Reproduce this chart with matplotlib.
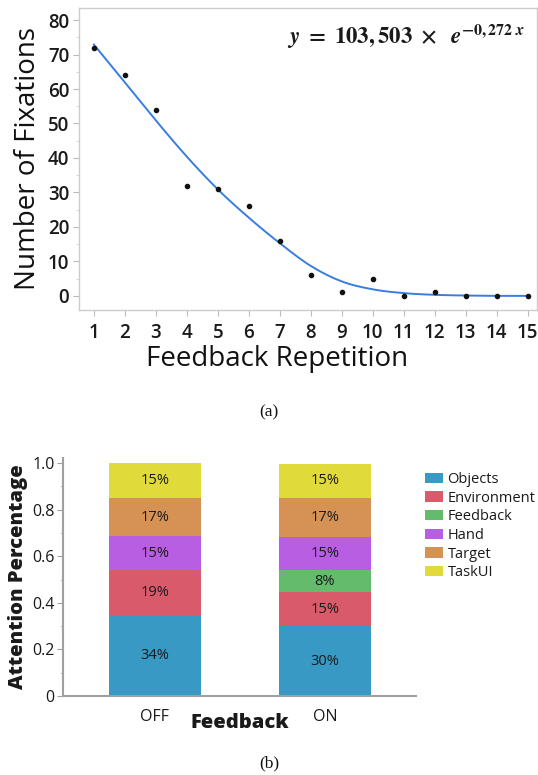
import numpy as np
import matplotlib
matplotlib.use("Agg")
import matplotlib.pyplot as plt
from matplotlib.patches import Patch

# ---------------- data ----------------
repetition = list(range(1, 16))
fixations = [72, 64, 54, 32, 31, 26, 16, 6, 1, 5, 0, 1, 0, 0, 0]
fit_curve = [72.9, 61.9, 50.9, 40.4, 30.9, 22.7, 15.3, 8.7, 4.2, 1.9, 0.8, 0.3, 0.1, 0.0, 0.0]

conditions = ["OFF", "ON"]
categories = ["Objects", "Environment", "Feedback", "Hand", "Target", "TaskUI"]
shares_off = [0.345, 0.195, 0.0, 0.145, 0.163, 0.152]
shares_on = [0.300, 0.145, 0.096, 0.141, 0.168, 0.147]
labels_off = ["34%", "19%", "", "15%", "17%", "15%"]
labels_on = ["30%", "15%", "8%", "15%", "17%", "15%"]
colors = ["#3799c4", "#d95b6b", "#63bb6b", "#b75ee3", "#d69154", "#e1da3b"]

SANS = ["Open Sans", "DejaVu Sans"]
SERIF = ["Liberation Serif", "DejaVu Serif"]
TXT = "#1a1a1a"

plt.rcParams["font.family"] = SANS
plt.rcParams["mathtext.fontset"] = "stix"

fig = plt.figure(figsize=(5.38, 7.75), dpi=100)

# ---------------- top panel ----------------
ax1 = fig.add_axes([0.1468, 0.600, 0.851, 0.3897])
ax1.scatter(repetition, fixations, s=9, color="#111111", zorder=3)


def catmull_rom(xs, ys, n=20):
    xs = np.asarray(xs, float)
    ys = np.asarray(ys, float)
    px = np.concatenate([[2 * xs[0] - xs[1]], xs, [2 * xs[-1] - xs[-2]]])
    py = np.concatenate([[2 * ys[0] - ys[1]], ys, [2 * ys[-1] - ys[-2]]])
    ox, oy = [], []
    for i in range(1, len(px) - 2):
        t = np.linspace(0, 1, n, endpoint=False)
        for arr, out in ((px, ox), (py, oy)):
            p0, p1, p2, p3 = arr[i - 1], arr[i], arr[i + 1], arr[i + 2]
            out.extend(0.5 * ((2 * p1) + (-p0 + p2) * t +
                              (2 * p0 - 5 * p1 + 4 * p2 - p3) * t ** 2 +
                              (-p0 + 3 * p1 - 3 * p2 + p3) * t ** 3))
    ox.append(xs[-1])
    oy.append(ys[-1])
    return np.array(ox), np.array(oy)


cx, cy = catmull_rom(repetition, fit_curve)
ax1.plot(cx, cy, color="#3a7de0", lw=1.4, zorder=2)

ax1.set_xlim(0.52, 15.3)
ax1.set_ylim(-4.1, 83.5)
ax1.set_xticks(repetition)
ax1.set_yticks(range(0, 81, 10))
ax1.set_yticks(range(5, 81, 10), minor=True)
for sp in ax1.spines.values():
    sp.set_color("#cccccc")
    sp.set_linewidth(1.0)
ax1.tick_params(axis="both", which="major", colors="#bbbbbb", length=4,
                width=0.8, labelcolor=TXT, labelsize=13.5)
ax1.tick_params(axis="y", which="minor", colors="#cccccc", length=2.5, width=0.6)
ax1.tick_params(axis="x", pad=5)
ax1.tick_params(axis="y", pad=3)
for lab in ax1.get_xticklabels() + ax1.get_yticklabels():
    lab.set_fontweight("semibold")
ax1.set_xlabel("Feedback Repetition", fontsize=20, fontweight="medium", color="#111111",
               labelpad=2)
ax1.xaxis.set_label_coords((277 - 79) / (537 - 79), -0.115)
ax1.set_ylabel("Number of Fixations", fontsize=20, fontweight="medium", color="#111111",
               labelpad=4)

fig.text(287 / 538, 1 - 37 / 775,
         r"$\mathbfit{y}\ \mathbf{=\ 103,503\ \times\ }\ \mathbfit{e}^{\mathbf{-0,272}\ \mathbfit{x}}$",
         fontsize=16.5, color=TXT, ha="left", va="center")

fig.text(0.5, 1 - 412 / 775, "(a)", family=SERIF, fontsize=12.5, ha="center",
         va="center", color="#111111")

# ---------------- bottom panel ----------------
ax2 = fig.add_axes([0.117, 0.1019, 0.656, 0.307])
xpos = np.arange(len(conditions))
bw = 0.54
for shares, labels, xi in ((shares_off, labels_off, 0), (shares_on, labels_on, 1)):
    bottom = 0.0
    for val, lab, col in zip(shares, labels, colors):
        if val > 0:
            ax2.bar(xpos[xi], val, bw, bottom=bottom, color=col, edgecolor="none")
            if lab:
                ax2.text(xpos[xi], bottom + val / 2, lab, ha="center", va="center",
                         fontsize=10.5, color=TXT)
        bottom += val

ax2.set_xlim(-0.54, 1.535)
ax2.set_ylim(0, 1.021)
ax2.set_xticks(xpos)
ax2.set_xticklabels(conditions)
ax2.set_yticks([0, 0.2, 0.4, 0.6, 0.8, 1.0])
ax2.set_yticklabels(["0", "0.2", "0.4", "0.6", "0.8", "1.0"])
ax2.set_yticks([0.1, 0.3, 0.5, 0.7, 0.9], minor=True)
for s in ("top", "right"):
    ax2.spines[s].set_visible(False)
for s in ("left", "bottom"):
    ax2.spines[s].set_color("#a0a0a0")
    ax2.spines[s].set_linewidth(1.5)
ax2.tick_params(axis="y", which="major", colors="#a0a0a0", length=4, width=0.8,
                labelcolor=TXT, labelsize=11.5, pad=2)
ax2.tick_params(axis="y", which="minor", colors="#bbbbbb", length=2, width=0.6)
ax2.tick_params(axis="x", length=0, labelcolor=TXT, labelsize=11.5, pad=9)
ax2.set_xlabel("Feedback", fontsize=14.5, fontweight="heavy", color=TXT, labelpad=-8)
ax2.set_ylabel("Attention Percentage", fontsize=14.5, fontweight="heavy", color=TXT,
               labelpad=3)

handles = [Patch(facecolor=c, edgecolor="none", label=n) for c, n in zip(colors, categories)]
fig.legend(handles=handles, loc="upper left",
           bbox_to_anchor=(425 / 538, 1 - 472 / 775), bbox_transform=fig.transFigure,
           frameon=False, fontsize=10.5, handlelength=1.25, handleheight=0.7,
           handletextpad=0.3, labelspacing=0.25, borderpad=0, borderaxespad=0,
           labelcolor=TXT)

fig.text(0.5, 1 - 763 / 775, "(b)", family=SERIF, fontsize=12.5, ha="center",
         va="center", color="#111111")

fig.savefig("out.png", dpi=100)
